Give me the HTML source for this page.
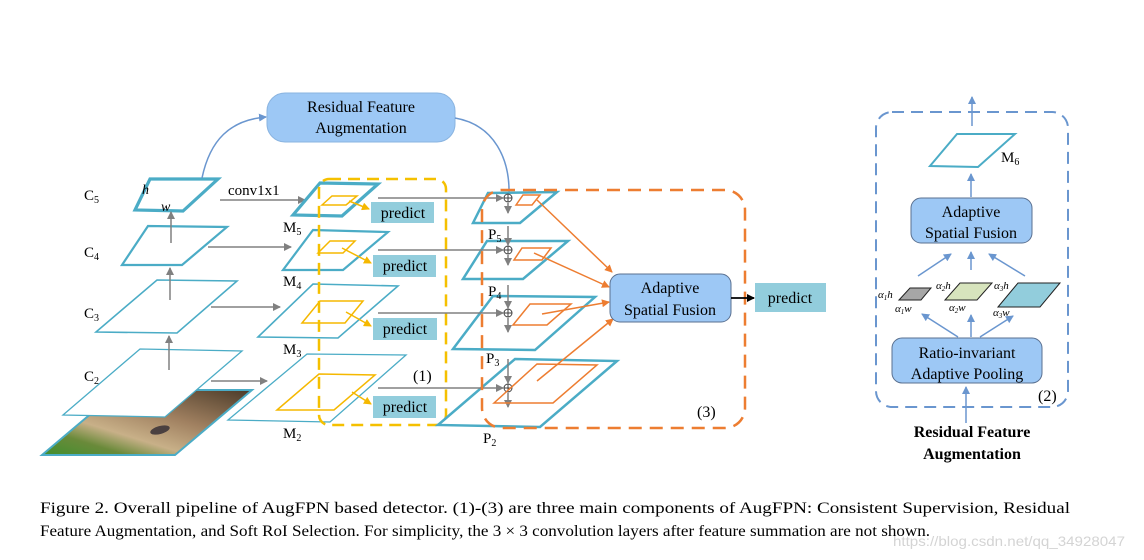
<!DOCTYPE html>
<html><head><meta charset="utf-8"><style>
html,body{margin:0;padding:0;background:#fff;}
svg{display:block;}
text{font-family:"Liberation Serif",serif;fill:#000;}
</style></head><body>
<svg width="1144" height="560" viewBox="0 0 1144 560" xmlns="http://www.w3.org/2000/svg">
<defs>
<marker id="ag" markerWidth="8" markerHeight="8" refX="7" refY="4" orient="auto" markerUnits="userSpaceOnUse"><path d="M0,0 L8,4 L0,8 z" fill="#808080"/></marker>
<marker id="ao" markerWidth="8" markerHeight="8" refX="7" refY="4" orient="auto" markerUnits="userSpaceOnUse"><path d="M0,0 L8,4 L0,8 z" fill="#ed7d31"/></marker>
<marker id="ay" markerWidth="8" markerHeight="8" refX="7" refY="4" orient="auto" markerUnits="userSpaceOnUse"><path d="M0,0 L8,4 L0,8 z" fill="#f5b800"/></marker>
<marker id="ab" markerWidth="8" markerHeight="8" refX="7" refY="4" orient="auto" markerUnits="userSpaceOnUse"><path d="M0,0 L8,4 L0,8 z" fill="#6a96cf"/></marker>
<marker id="ak" markerWidth="8" markerHeight="8" refX="7" refY="4" orient="auto" markerUnits="userSpaceOnUse"><path d="M0,0 L8,4 L0,8 z" fill="#000"/></marker>
<linearGradient id="bear" x1="0" y1="1" x2="1" y2="0">
<stop offset="0" stop-color="#3f8f2e"/><stop offset="0.2" stop-color="#6a8a3a"/><stop offset="0.35" stop-color="#c8b088"/><stop offset="0.6" stop-color="#a08060"/><stop offset="1" stop-color="#4a3a28"/></linearGradient>
</defs>

<!-- bear image -->
<polygon points="42,455 119,390 252,390 175,455" fill="url(#bear)" stroke="#4bacc6" stroke-width="2"/>
<ellipse cx="160" cy="430" rx="10" ry="4" fill="#4a4040" transform="rotate(-15 160 430)"/>

<!-- C layers -->
<g fill="#fff" stroke="#4bacc6">
<polygon points="63,415 140,349 242,351 165,417" stroke-width="1.3"/>
<polygon points="96,332 157,280 237,281 177,333" stroke-width="1.6"/>
<polygon points="122,265 148,226 227,227 182,265" stroke-width="2.2"/>
<polygon points="135,210 150,179 218,179 183,211" stroke-width="3.2"/>
</g>
<g stroke="#808080" stroke-width="1.5" fill="none">
<line x1="169" y1="370" x2="169" y2="336" marker-end="url(#ag)"/>
<line x1="170" y1="300" x2="170" y2="268" marker-end="url(#ag)"/>
<line x1="171" y1="243" x2="171" y2="212" marker-end="url(#ag)"/>
<line x1="220" y1="200" x2="305" y2="200" marker-end="url(#ag)"/>
<line x1="208" y1="247" x2="291" y2="247" marker-end="url(#ag)"/>
<line x1="211" y1="307" x2="280" y2="307" marker-end="url(#ag)"/>
<line x1="211" y1="381" x2="267" y2="381" marker-end="url(#ag)"/>
</g>
<text x="84" y="200" font-size="15">C<tspan font-size="10" dy="3">5</tspan></text>
<text x="84" y="257" font-size="15">C<tspan font-size="10" dy="3">4</tspan></text>
<text x="84" y="318" font-size="15">C<tspan font-size="10" dy="3">3</tspan></text>
<text x="84" y="381" font-size="15">C<tspan font-size="10" dy="3">2</tspan></text>
<text x="142" y="194" font-size="14" font-style="italic">h</text>
<text x="161" y="211" font-size="14" font-style="italic">w</text>
<text x="228" y="195" font-size="15">conv1x1</text>

<!-- RFA top box -->
<rect x="267" y="93" width="188" height="49" rx="18" fill="#9dc8f5" stroke="#8ab4e0"/>
<text x="361" y="112" font-size="16" text-anchor="middle">Residual Feature</text>
<text x="361" y="133" font-size="16" text-anchor="middle">Augmentation</text>
<path d="M202,178 C210,140 230,120 266,117" stroke="#6a96cf" stroke-width="1.5" fill="none" marker-end="url(#ab)"/>
<path d="M455,118 C495,125 510,160 509,195" stroke="#6a96cf" stroke-width="1.5" fill="none"/>

<!-- M layers -->
<g fill="#fff" stroke="#4bacc6">
<polygon points="228,420 307,354 406,355 330,422" stroke-width="1.3"/>
<polygon points="258,337 313,284 398,286 338,338" stroke-width="1.6"/>
<polygon points="283,270 313,230 388,232 343,270" stroke-width="2.2"/>
<polygon points="293,215 320,183 378,184 342,216" stroke-width="3.2"/>
</g>
<g fill="none" stroke="#f5b800" stroke-width="1.5">
<polygon points="322,205 332,196 357,196 346,205"/>
<polygon points="318,253 330,241 355,241 343,253"/>
<polygon points="302,323 320,301 363,301 345,323"/>
<polygon points="277,410 319,374 375,375 334,410"/>
<line x1="349" y1="201" x2="369" y2="209" marker-end="url(#ay)"/>
<line x1="342" y1="248" x2="371" y2="263" marker-end="url(#ay)"/>
<line x1="346" y1="312" x2="371" y2="326" marker-end="url(#ay)"/>
<line x1="352" y1="392" x2="371" y2="404" marker-end="url(#ay)"/>
</g>
<rect x="319" y="179" width="127" height="246" rx="10" fill="none" stroke="#f5c000" stroke-width="2.5" stroke-dasharray="12,7"/>
<g fill="#92cddc">
<rect x="371" y="202" width="63" height="21"/>
<rect x="373" y="255" width="63" height="22"/>
<rect x="373" y="318" width="64" height="22"/>
<rect x="373" y="396" width="63" height="22"/>
</g>
<g font-size="16" text-anchor="middle">
<text x="403" y="218">predict</text>
<text x="405" y="271">predict</text>
<text x="405" y="334">predict</text>
<text x="405" y="412">predict</text>
</g>
<text x="283" y="232" font-size="15">M<tspan font-size="10" dy="3">5</tspan></text>
<text x="283" y="286" font-size="15">M<tspan font-size="10" dy="3">4</tspan></text>
<text x="283" y="354" font-size="15">M<tspan font-size="10" dy="3">3</tspan></text>
<text x="283" y="438" font-size="15">M<tspan font-size="10" dy="3">2</tspan></text>
<text x="413" y="381" font-size="16">(1)</text>

<!-- P layers -->
<g fill="#fff" stroke="#4bacc6">
<polygon points="438,425 515,359 617,361 540,427" stroke-width="2.5"/>
<polygon points="453,349 493,296 595,297 535,350" stroke-width="2.5"/>
<polygon points="463,279 487,241 568,241 523,279" stroke-width="2.5"/>
<polygon points="473,223 488,193 557,192 520,223" stroke-width="2.5"/>
</g>
<g stroke="#808080" stroke-width="1.5" fill="none">
<line x1="378" y1="198" x2="503" y2="198" marker-end="url(#ag)"/>
<line x1="378" y1="250" x2="503" y2="250" marker-end="url(#ag)"/>
<line x1="378" y1="313" x2="503" y2="313" marker-end="url(#ag)"/>
<line x1="378" y1="388" x2="503" y2="388" marker-end="url(#ag)"/>
<line x1="508" y1="203" x2="508" y2="213" marker-end="url(#ag)"/>
<line x1="508" y1="226" x2="508" y2="245" marker-end="url(#ag)"/>
<line x1="508" y1="255" x2="508" y2="265" marker-end="url(#ag)"/>
<line x1="508" y1="285" x2="508" y2="308" marker-end="url(#ag)"/>
<line x1="508" y1="318" x2="508" y2="332" marker-end="url(#ag)"/>
<line x1="508" y1="359" x2="508" y2="383" marker-end="url(#ag)"/>
<line x1="508" y1="393" x2="508" y2="407" marker-end="url(#ag)"/>
</g>
<g fill="#fff" stroke="#404040" stroke-width="1">
<circle cx="508" cy="198" r="4"/><circle cx="508" cy="250" r="4"/><circle cx="508" cy="313" r="4"/><circle cx="508" cy="388" r="4"/>
<path d="M504,198h8M508,194v8M504,250h8M508,246v8M504,313h8M508,309v8M504,388h8M508,384v8" fill="none"/>
</g>
<g fill="none" stroke="#ed7d31" stroke-width="1.5">
<polygon points="516,205 523,195 540,195 532,205"/>
<polygon points="514,260 522,248 551,248 542,260"/>
<polygon points="513,325 530,304 571,304 547,325"/>
<polygon points="494,403 537,364 597,365 553,403"/>
<line x1="537" y1="200" x2="612" y2="272" marker-end="url(#ao)"/>
<line x1="534" y1="253" x2="609" y2="287" marker-end="url(#ao)"/>
<line x1="542" y1="314" x2="609" y2="302" marker-end="url(#ao)"/>
<line x1="537" y1="381" x2="613" y2="319" marker-end="url(#ao)"/>
</g>
<text x="488" y="239" font-size="15">P<tspan font-size="10" dy="3">5</tspan></text>
<text x="488" y="296" font-size="15">P<tspan font-size="10" dy="3">4</tspan></text>
<text x="486" y="363" font-size="15">P<tspan font-size="10" dy="3">3</tspan></text>
<text x="483" y="443" font-size="15">P<tspan font-size="10" dy="3">2</tspan></text>
<rect x="482" y="190" width="263" height="238" rx="20" fill="none" stroke="#ed7d31" stroke-width="2.5" stroke-dasharray="13,8"/>
<text x="697" y="417" font-size="16">(3)</text>
<rect x="610" y="274" width="121" height="48" rx="10" fill="#9dc8f5" stroke="#5a7090"/>
<text x="670" y="293" font-size="16" text-anchor="middle">Adaptive</text>
<text x="670" y="315" font-size="16" text-anchor="middle">Spatial Fusion</text>
<line x1="731" y1="298" x2="754" y2="298" stroke="#000" stroke-width="1.8" marker-end="url(#ak)"/>
<rect x="755" y="283" width="71" height="29" fill="#92cddc"/>
<text x="790" y="303" font-size="16" text-anchor="middle">predict</text>

<!-- Right panel -->
<rect x="876" y="112" width="192" height="295" rx="16" fill="none" stroke="#6a96cf" stroke-width="2" stroke-dasharray="12,7"/>
<g stroke="#6a96cf" stroke-width="1.5" fill="none">
<line x1="972" y1="126" x2="972" y2="97" marker-end="url(#ab)"/>
<line x1="971" y1="197" x2="971" y2="174" marker-end="url(#ab)"/>
<line x1="918" y1="276" x2="951" y2="254" marker-end="url(#ab)"/>
<line x1="971" y1="270" x2="971" y2="252" marker-end="url(#ab)"/>
<line x1="1025" y1="276" x2="989" y2="254" marker-end="url(#ab)"/>
<line x1="958" y1="337" x2="922" y2="314" marker-end="url(#ab)"/>
<line x1="971" y1="337" x2="971" y2="315" marker-end="url(#ab)"/>
<line x1="980" y1="337" x2="1013" y2="316" marker-end="url(#ab)"/>
<line x1="966" y1="423" x2="966" y2="387" marker-end="url(#ab)"/>
</g>
<polygon points="930,166 957,134 1015,134 978,167" fill="#fff" stroke="#4bacc6" stroke-width="2"/>
<text x="1001" y="162" font-size="15">M<tspan font-size="10" dy="3">6</tspan></text>
<rect x="911" y="198" width="121" height="45" rx="10" fill="#9dc8f5" stroke="#5a7090"/>
<text x="971" y="217" font-size="16" text-anchor="middle">Adaptive</text>
<text x="971" y="238" font-size="16" text-anchor="middle">Spatial Fusion</text>
<polygon points="899,300 910,288 931,288 921,300" fill="#a6a6a6" stroke="#222" stroke-width="1"/>
<polygon points="945,300 960,283 992,283 977,300" fill="#d7e4bd" stroke="#222" stroke-width="1"/>
<polygon points="998,307 1018,283 1060,283 1040,307" fill="#92cddc" stroke="#222" stroke-width="1"/>
<g font-size="11" font-style="italic">
<text x="878" y="298">α<tspan font-size="7" dy="2">1</tspan><tspan dy="-2">h</tspan></text>
<text x="895" y="312">α<tspan font-size="7" dy="2">1</tspan><tspan dy="-2">w</tspan></text>
<text x="936" y="289">α<tspan font-size="7" dy="2">2</tspan><tspan dy="-2">h</tspan></text>
<text x="949" y="311">α<tspan font-size="7" dy="2">2</tspan><tspan dy="-2">w</tspan></text>
<text x="994" y="289">α<tspan font-size="7" dy="2">3</tspan><tspan dy="-2">h</tspan></text>
<text x="993" y="316">α<tspan font-size="7" dy="2">3</tspan><tspan dy="-2">w</tspan></text>
</g>
<rect x="892" y="338" width="150" height="45" rx="10" fill="#9dc8f5" stroke="#5a7090"/>
<text x="967" y="358" font-size="16" text-anchor="middle">Ratio-invariant</text>
<text x="967" y="379" font-size="16" text-anchor="middle">Adaptive Pooling</text>
<text x="1038" y="401" font-size="16">(2)</text>
<text x="972" y="437" font-size="16" font-weight="bold" text-anchor="middle">Residual Feature</text>
<text x="972" y="459" font-size="16" font-weight="bold" text-anchor="middle">Augmentation</text>

<!-- caption -->
<text x="40" y="513" font-size="16" textLength="1030" lengthAdjust="spacingAndGlyphs">Figure 2. Overall pipeline of AugFPN based detector. (1)-(3) are three main components of AugFPN: Consistent Supervision, Residual</text>
<text x="40" y="536" font-size="16" textLength="890" lengthAdjust="spacingAndGlyphs">Feature Augmentation, and Soft RoI Selection. For simplicity, the 3 × 3 convolution layers after feature summation are not shown.</text>
<text x="893" y="546" font-size="14" style="fill:#d4d4d4;font-family:'Liberation Sans',sans-serif" textLength="232" lengthAdjust="spacingAndGlyphs">https://blog.csdn.net/qq_34928047</text>
</svg>
</body></html>
